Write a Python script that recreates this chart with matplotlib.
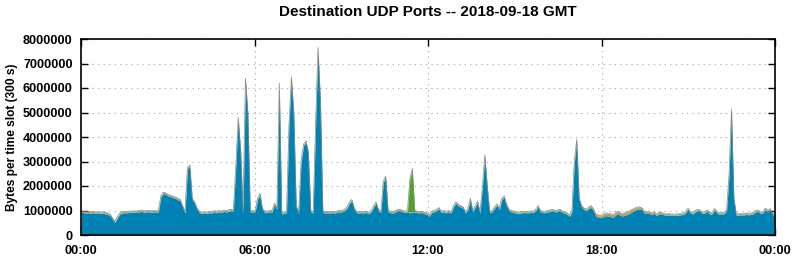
import numpy as np
import matplotlib
matplotlib.use("Agg")
import matplotlib.pyplot as plt

# Total height of the stack (millions of bytes per 5-minute slot), 12 slots per hour
total = np.array([
    # 00h
    1.0, 0.97, 0.95, 0.96, 0.95, 0.96, 0.94, 0.95, 0.93, 0.95, 0.92, 0.9,
    # 01h
    0.85, 0.7, 0.57, 0.75, 0.9, 0.95, 0.97, 0.96, 0.98, 0.97, 0.99, 0.98,
    # 02h
    1.0, 1.02, 0.98, 1.0, 1.0, 0.99, 1.0, 1.0, 1.0, 1.6, 1.75, 1.72,
    # 03h
    1.65, 1.62, 1.58, 1.55, 1.5, 1.45, 1.2, 0.95, 2.75, 2.85, 1.5, 1.35,
    # 04h
    1.1, 0.97, 0.93, 0.95, 0.93, 0.97, 0.95, 1.0, 0.96, 1.0, 0.97, 1.02,
    # 05h
    1.0, 1.02, 1.05, 1.03, 2.8, 4.8, 3.5, 0.95, 6.4, 5.0, 1.0, 1.0,
    # 06h
    1.0, 1.5, 1.7, 1.1, 0.97, 0.98, 1.0, 1.0, 1.3, 1.1, 6.2, 0.9,
    # 07h
    0.95, 0.97, 4.5, 6.45, 5.0, 1.2, 0.95, 3.0, 3.7, 3.85, 3.4, 1.0,
    # 08h
    0.95, 4.5, 7.65, 5.5, 1.0, 0.95, 0.97, 0.95, 0.97, 0.96, 0.98, 1.0,
    # 09h
    1.0, 1.05, 1.15, 1.35, 1.45, 1.1, 0.97, 0.95, 0.97, 0.95, 0.98, 0.92,
    # 10h
    1.0, 1.2, 1.35, 1.05, 0.97, 2.2, 2.4, 1.0, 0.97, 0.95, 1.0, 1.05,
    # 11h
    1.05, 1.0, 0.97, 1.0, 2.3, 2.72, 1.0, 0.97, 0.96, 0.97, 0.93, 0.9,
    # 12h
    0.82, 0.97, 1.0, 1.05, 1.12, 0.97, 1.0, 0.96, 1.0, 0.95, 1.2, 1.35,
    # 13h
    1.25, 1.2, 1.15, 0.95, 1.1, 1.5, 1.0, 1.2, 1.38, 0.95, 2.0, 3.27,
    # 14h
    2.0, 0.97, 1.0, 1.15, 1.27, 1.1, 1.5, 1.6, 1.25, 1.05, 1.0, 0.97,
    # 15h
    0.95, 0.93, 0.96, 0.97, 0.97, 0.96, 0.98, 0.97, 1.05, 1.2, 1.0, 0.97,
    # 16h
    0.97, 1.0, 1.02, 1.05, 1.0, 1.02, 1.05, 0.98, 0.95, 0.9, 0.82, 1.0,
    # 17h
    3.0, 3.9, 1.5, 1.2, 1.1, 1.05, 1.15, 1.2, 1.05, 0.85, 0.82, 0.8,
    # 18h
    0.85, 0.9, 0.88, 0.86, 0.82, 0.9, 0.97, 0.9, 0.88, 0.92, 0.95, 1.0,
    # 19h
    1.05, 1.1, 1.13, 1.15, 1.1, 0.97, 0.95, 0.95, 0.9, 0.95, 0.85, 0.93,
    # 20h
    0.92, 0.88, 0.86, 0.87, 0.86, 0.85, 0.86, 0.86, 0.88, 0.9, 0.95, 1.1,
    # 21h
    0.95, 0.92, 1.0, 1.05, 1.02, 0.93, 0.95, 1.03, 0.9, 0.92, 1.08, 0.95,
    # 22h
    0.9, 0.92, 0.93, 1.05, 2.5, 5.15, 1.5, 0.85, 0.87, 0.88, 0.87, 0.9,
    # 23h
    0.88, 0.9, 0.92, 1.0, 1.02, 0.93, 0.96, 1.1, 1.0, 1.08, 0.9, 0.8,
]) * 1e6

n = len(total)

# Thin upper layers (bytes)
green = np.full(n, 8e3)
green[136] = 1.35e6
green[137] = 1.75e6

orange = np.full(n, 20e3)
orange[210:240] = [30e3, 40e3, 50e3, 55e3, 60e3, 60e3, 65e3, 70e3, 70e3, 70e3,
                   65e3, 60e3, 55e3, 60e3, 65e3, 70e3, 75e3, 70e3, 60e3, 55e3,
                   50e3, 45e3, 40e3, 40e3, 35e3, 30e3, 30e3, 25e3, 25e3, 25e3]

gray = np.full(n, 30e3)

blue = total - green - orange - gray

hours = np.linspace(0, 24, n)

blue_c = "#0083b4"
green_c = "#52a02c"
orange_c = "#e08a20"
gray_c = "#8c8c8c"

plt.rcParams['font.family'] = ['Liberation Sans', 'DejaVu Sans']
plt.rcParams['font.weight'] = 'bold'

fig = plt.figure(figsize=(7.94, 2.60), dpi=100)
ax = fig.add_axes([81 / 794, 1 - 235 / 260, (775 - 81) / 794, (235 - 39) / 260])

b0 = np.zeros(n)
b1 = blue
b2 = b1 + orange
b3 = b2 + green
b4 = b3 + gray
ax.fill_between(hours, b0, b1, color=blue_c, lw=0)
ax.fill_between(hours, b1, b2, color=orange_c, lw=0)
ax.fill_between(hours, b2, b3, color=green_c, lw=0)
ax.fill_between(hours, b3, b4, color=gray_c, lw=0)
ax.plot(hours, b4, color="#8a8a78", lw=0.5)

ax.set_xlim(0, 24)
ax.set_ylim(0, 8e6)

xt = [0, 6, 12, 18, 24]
xl = ["00:00", "06:00", "12:00", "18:00", "00:00"]
ax.set_xticks(xt)
ax.set_xticklabels(xl)
yt = np.arange(0, 8000001, 1000000)
ax.set_yticks(yt)
ax.set_yticklabels([str(int(v)) for v in yt])

ax.tick_params(direction='in', length=5, width=1, top=True, right=True,
               labelsize=9.1, colors='black')
ax.tick_params(axis='y', pad=6)
ax.tick_params(axis='x', pad=7)
for lab in ax.get_xticklabels() + ax.get_yticklabels():
    lab.set_fontweight('bold')

ax.grid(True, linestyle=(0, (1, 4)), color='#a0a0a0', lw=0.8)
ax.set_axisbelow(True)
for s in ax.spines.values():
    s.set_linewidth(1.2)
    s.set_zorder(5)

ax.set_ylabel("Bytes per time slot (300 s)", fontsize=8.6, fontweight='bold')
ax.yaxis.set_label_coords((18 - 81) / 694, 0.5)
fig.suptitle("Destination UDP Ports -- 2018-09-18 GMT", fontsize=11, fontweight='bold',
             x=(81 + 775) / 2 / 794, y=1 - 12 / 260, va='center')

fig.savefig("out.png", dpi=100)
